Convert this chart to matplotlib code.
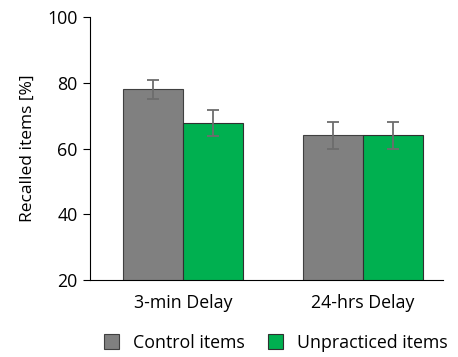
import numpy as np
import matplotlib.pyplot as plt

plt.rcParams['font.family'] = ['Open Sans', 'DejaVu Sans']

delays = ['3-min Delay', '24-hrs Delay']
control = [78, 64]
control_err = [3, 4]
unpracticed = [67.7, 64]
unpracticed_err = [4, 4]

fig = plt.figure(figsize=(4.58, 3.57), dpi=100)
ax = fig.add_axes([0.1965, 0.2157, 0.7705, 0.7363])

x = np.arange(len(delays))
w = 0.333
ekw = dict(ecolor='#6d6d6d', elinewidth=1.3, capsize=4, capthick=1.3)
ax.bar(x - w / 2, control, w, yerr=control_err, color='#808080',
       edgecolor='#404040', linewidth=0.8, label='Control items', error_kw=ekw)
ax.bar(x + w / 2, unpracticed, w, yerr=unpracticed_err, color='#00b050',
       edgecolor='#303030', linewidth=0.8, label='Unpracticed items', error_kw=ekw)

ax.set_ylim(20, 100)
ax.set_xlim(-0.517, 1.445)
ax.set_yticks([20, 40, 60, 80, 100])
ax.set_xticks(x)
ax.set_xticklabels(delays)
ax.tick_params(axis='x', length=0, labelsize=12.8, pad=10)
ax.tick_params(axis='y', length=5, labelsize=12.8, pad=4)
ax.set_ylabel('Recalled items [%]', fontsize=12.5, labelpad=8)
for s in ['top', 'right']:
    ax.spines[s].set_visible(False)

fig.legend(loc='lower center', ncol=2, frameon=False, fontsize=12.8,
           bbox_to_anchor=(0.602, -0.03), handlelength=0.85, handleheight=0.85,
           columnspacing=1.3, handletextpad=0.8)

fig.savefig('out.png', dpi=100)
